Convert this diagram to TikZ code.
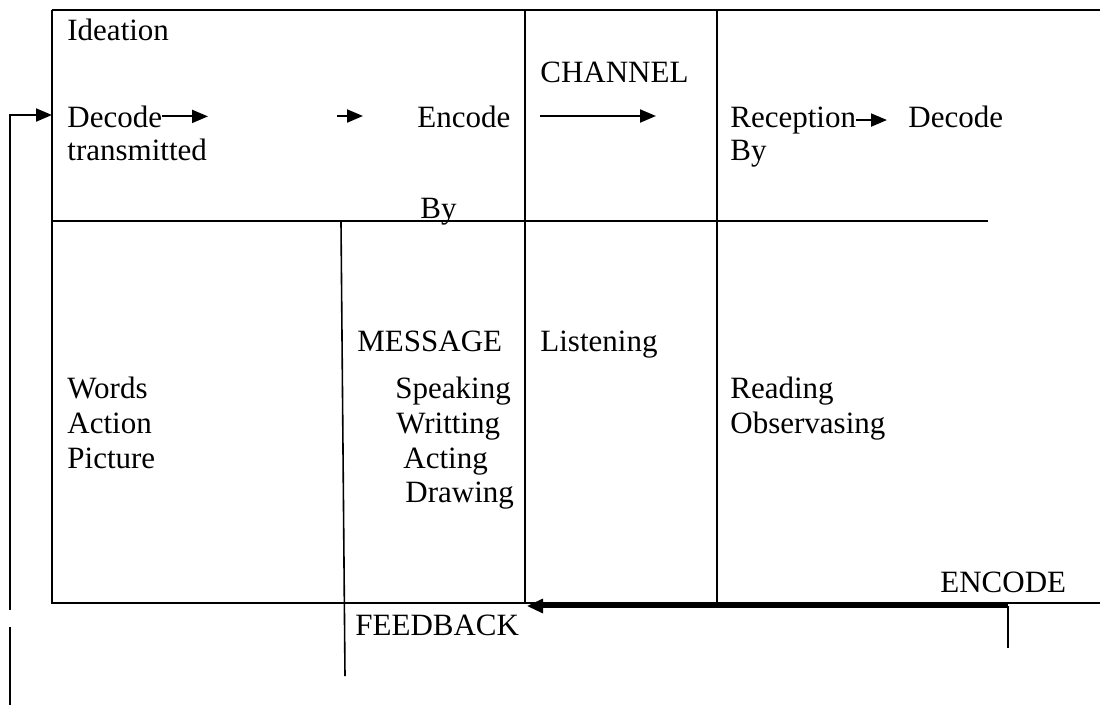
\documentclass[tikz,border=0pt]{standalone}
\usepackage{fontspec}
\setmainfont{Liberation Serif}
\usetikzlibrary{arrows.meta}
\begin{document}
\begin{tikzpicture}[x=0.5pt,y=-0.5pt,
  txt/.style={anchor=base west, inner sep=0pt, font=\fontsize{15.5}{18}\selectfont},
  frame/.style={line width=1.1pt},
  thinline/.style={line width=0.8pt},
  arr/.style={line width=1pt, -{Triangle[length=8pt,width=6.5pt]}},
  fbarr/.style={line width=1.6pt, -{Triangle[length=8pt,width=7pt]}}]
\useasboundingbox (0,0) rectangle (1100,725);
% grid
\draw[frame] (52,10) -- (1100,10);
\draw[frame] (52,10) -- (52,603) -- (1100,603);
\draw[frame] (525,10) -- (525,603);
\draw[frame] (717,10) -- (717,603);
\draw[frame] (52,221) -- (988,221);
\draw[thinline] (341,222) -- (345,676);
% texts
\node[txt] (ideation) at (67,40) {Ideation};
\node[txt] (decode1) at (67,127) {Decode};
\node[txt] (encode1) at (417,127) {Encode};
\node[txt] (transm) at (67,160) {transmitted};
\node[txt] (by1) at (420,218) {By};
\node[txt] (channel) at (540,82) {CHANNEL};
\node[txt] (reception) at (730,127) {Reception};
\node[txt] (decode2) at (908,127) {Decode};
\node[txt] (by2) at (730,160) {By};
\node[txt] (message) at (357,351) {MESSAGE};
\node[txt] (listening) at (540,351) {Listening};
\node[txt] (words) at (67,398) {Words};
\node[txt] (action) at (67,433) {Action};
\node[txt] (picture) at (67,468) {Picture};
\node[txt] (speaking) at (395,398) {Speaking};
\node[txt] (writting) at (396,433) {Writting};
\node[txt] (acting) at (403,468) {Acting};
\node[txt] (drawing) at (405,502) {Drawing};
\node[txt] (reading) at (730,398) {Reading};
\node[txt] (observ) at (730,433) {Observasing};
\node[txt] (encode2) at (940,592) {ENCODE};
\node[txt] (feedback) at (355,635) {FEEDBACK};
% inline arrows
\coordinate (a1) at (208,116);
\draw[arr] (decode1.east) -- (decode1.east -| a1);
\coordinate (a2s) at (337,116);
\coordinate (a2e) at (363,116);
\draw[arr] (a2s) -- (a2e);
\coordinate (chs) at (540,116);
\coordinate (che) at (656,116);
\draw[arr] (chs) -- (che);
\coordinate (a3) at (887,116);
\draw[arr] (reception.east) -- (reception.east -| a3);
% feedback loop
\coordinate (fbtop) at (1008,606);
\coordinate (fbbot) at (1008,648);
\coordinate (fbend) at (527,606);
\draw[thinline] (fbbot) -- (fbtop);
\draw[fbarr] (fbtop) -- (fbend);
% left loop
\coordinate (l1) at (10,705);
\coordinate (l2) at (10,627);
\coordinate (l3) at (10,610);
\coordinate (l4) at (10,115);
\coordinate (l5) at (52,115);
\draw[thinline] (l1) -- (l2);
\draw[arr] (l3) -- (l4) -- (l5);
\end{tikzpicture}
\end{document}
